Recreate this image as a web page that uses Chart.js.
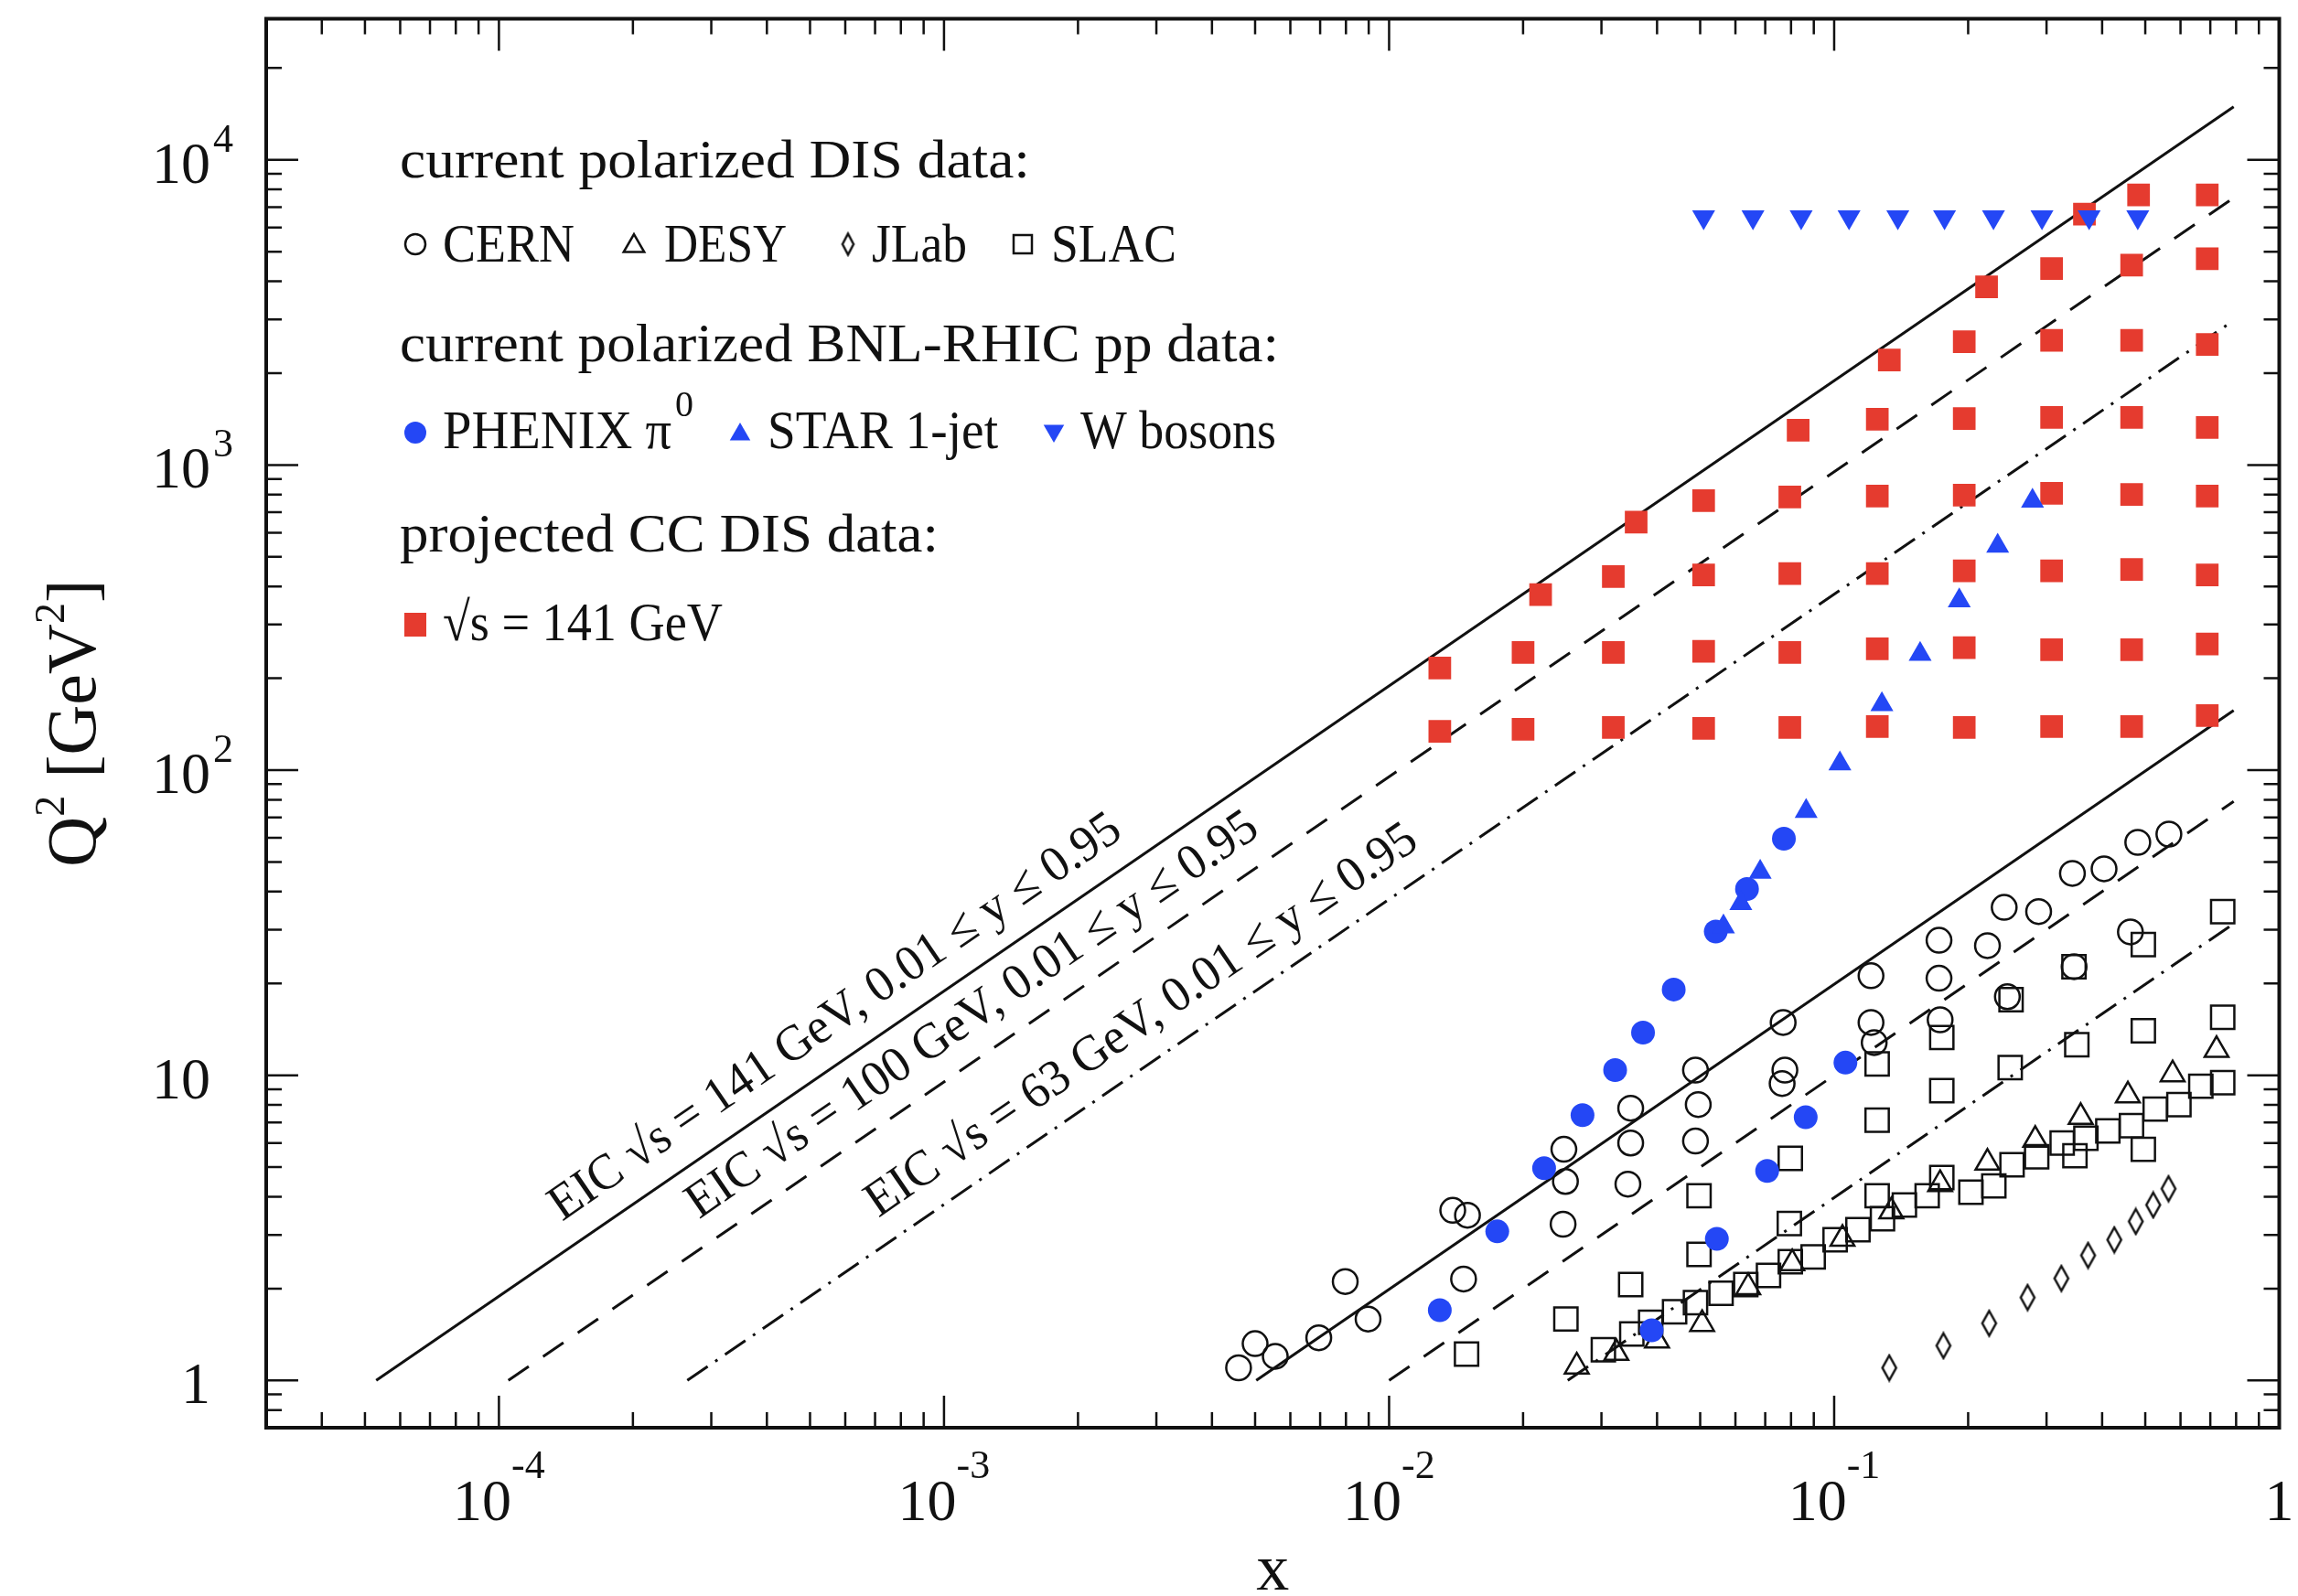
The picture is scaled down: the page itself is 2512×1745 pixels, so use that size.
<!DOCTYPE html>
<html>
<head>
<meta charset="utf-8">
<script src="https://cdn.jsdelivr.net/npm/chart.js@4.4.0/dist/chart.umd.min.js"></script>
<style>
  body { margin: 0; background: #fff; }
  #wrap { width: 2512px; height: 1745px; }
</style>
</head>
<body>
<div id="wrap"><canvas id="dis-chart" width="2512" height="1745"></canvas></div>
<script>
// ---- data (x, Q^2 in GeV^2) ----
const cernX = [0.00459, 0.00500, 0.00555, 0.00695, 0.00797, 0.00897, 0.0139, 0.0150, 0.0147,
  0.0247, 0.0249, 0.0246, 0.0349, 0.0349, 0.0344, 0.0488, 0.0495, 0.0488, 0.0768, 0.0775, 0.0764,
  0.121, 0.121, 0.123, 0.172, 0.172, 0.173, 0.221, 0.241, 0.245, 0.288, 0.346, 0.343, 0.404,
  0.463, 0.481, 0.565];
const cernQ2 = [1.10, 1.32, 1.20, 1.38, 2.11, 1.59, 3.61, 3.48, 2.15,
  5.72, 4.49, 3.25, 7.80, 6.00, 4.40, 10.4, 8.02, 6.09, 14.9, 10.4, 9.40,
  21.2, 14.9, 12.8, 27.7, 20.8, 15.2, 26.6, 35.5, 18.1, 34.4, 22.7, 45.9, 47.5,
  29.5, 58.0, 61.7];

const desyX = [0.0264, 0.0324, 0.0400, 0.0505, 0.0641, 0.0805, 0.1044, 0.1344, 0.173, 0.221,
  0.283, 0.358, 0.457, 0.576, 0.723];
const desyQ2 = [1.11, 1.23, 1.35, 1.53, 2.02, 2.42, 2.91, 3.58, 4.40, 5.17,
  6.14, 7.30, 8.58, 10.07, 12.1];

const jlabX = [0.133, 0.176, 0.223, 0.272, 0.324, 0.372, 0.426, 0.476, 0.521, 0.564];
const jlabQ2 = [1.10, 1.30, 1.54, 1.87, 2.16, 2.57, 2.89, 3.32, 3.76, 4.25];

const slacX = [0.0303, 0.0351, 0.0387, 0.0438, 0.0488, 0.0557, 0.0633, 0.0712, 0.0797, 0.0897,
  0.1005, 0.1131, 0.1284, 0.1249, 0.1438, 0.1618, 0.1745, 0.2029, 0.2284, 0.2510,
  0.2851, 0.3253, 0.3475, 0.3678, 0.4120, 0.4656, 0.4950, 0.5264, 0.5951, 0.6665, 0.7464,
  0.01493, 0.02496, 0.0349, 0.0497, 0.0497, 0.0793, 0.0797, 0.1249, 0.1249, 0.1745,
  0.1745, 0.2486, 0.2497, 0.3458, 0.4950, 0.7464, 0.3509, 0.4950, 0.7464];
const slacQ2 = [1.26, 1.42, 1.55, 1.68, 1.80, 1.93, 2.06, 2.21, 2.45, 2.54,
  2.89, 3.12, 3.39, 4.03, 3.76, 4.03, 4.62, 4.14, 4.34, 5.09,
  5.41, 6.00, 5.45, 6.22, 6.57, 6.84, 5.72, 7.75, 8.02, 9.21, 9.46,
  1.22, 1.59, 2.06, 2.59, 4.03, 3.27, 5.34, 7.13, 10.9, 8.90,
  13.3, 10.6, 17.7, 22.7, 26.8, 34.4, 12.6, 14.0, 15.5];

const phenixX = [0.0130, 0.0175, 0.0223, 0.0272, 0.0322, 0.0372, 0.0436, 0.0542, 0.0637, 0.0771,
  0.0389, 0.0545, 0.0707, 0.0863, 0.106];
const phenixQ2 = [1.70, 3.08, 4.96, 7.40, 10.4, 13.8, 19.1, 29.6, 40.8, 59.6,
  1.46, 2.91, 4.86, 7.29, 11.0];

const starX = [0.0564, 0.0617, 0.0682, 0.0865, 0.103, 0.128, 0.156, 0.191, 0.233, 0.279];
const starQ2 = [30.7, 36.6, 46.3, 73.3, 105, 164, 240, 359, 543, 762];

const wX = [0.0509, 0.0657, 0.0843, 0.108, 0.139, 0.177, 0.228, 0.293, 0.374, 0.481];
const wQ2 = [6500, 6500, 6500, 6500, 6500, 6500, 6500, 6500, 6500, 6500];

const ccX = [0.0130, 0.0130, 0.0200, 0.0200, 0.0219, 0.0319, 0.0319, 0.0319, 0.0359,
  0.0509, 0.0509, 0.0509, 0.0509, 0.0795, 0.0795, 0.0795, 0.0795, 0.0830,
  0.125, 0.125, 0.125, 0.125, 0.125, 0.133, 0.196, 0.196, 0.196, 0.196, 0.196, 0.196, 0.220,
  0.308, 0.308, 0.308, 0.308, 0.308, 0.308, 0.308,
  0.466, 0.466, 0.466, 0.466, 0.466, 0.466, 0.466, 0.483, 0.365,
  0.689, 0.689, 0.689, 0.689, 0.689, 0.689, 0.689, 0.689];
const ccQ2 = [134, 216, 136, 243, 376, 138, 243, 431, 650,
  137, 245, 436, 764, 138, 243, 441, 786, 1300,
  139, 250, 441, 791, 1413, 2208, 138, 252, 450, 796, 1419, 2535, 3838,
  139, 248, 450, 807, 1432, 2560, 4406,
  139, 248, 455, 800, 1432, 2560, 4520, 7680, 6640,
  151, 259, 436, 791, 1328, 2484, 4740, 7680];

// EIC kinematic limits, end points [x, Q^2]
const eic141Upper = [[5.3e-5, 1], [0.79, 14920]];
const eic100Upper = [[1.05e-4, 1], [0.79, 7505]];
const eic63Upper = [[2.65e-4, 1], [0.79, 2978]];
const eic141Lower = [[0.00503, 1], [0.79, 157]];
const eic100Lower = [[0.0100, 1], [0.79, 79]];
const eic63Lower = [[0.0252, 1], [0.79, 31.4]];

const lineLabels = ['EIC \u221As = 141 GeV, 0.01 \u2264 y \u2264 0.95',
  'EIC \u221As = 100 GeV, 0.01 \u2264 y \u2264 0.95',
  'EIC \u221As = 63 GeV, 0.01 \u2264 y \u2264 0.95'];
const lineLabelX = [6.4e-4, 1.30e-3, 3.12e-3];
const lineLabelQ2 = [12.1, 12.3, 11.8];

const xTickValues = [1e-4, 1e-3, 1e-2, 1e-1, 1];
const xTickLabels = [['10', '-4'], ['10', '-3'], ['10', '-2'], ['10', '-1'], ['1', '']];
const yTickValues = [1, 10, 100, 1000, 10000];
const yTickLabels = [['1', ''], ['10', ''], ['10', '2'], ['10', '3'], ['10', '4']];

const SERIF = '"Liberation Serif", "Times New Roman", serif';
const BLUE = '#2447f5';
const RED = '#e53b2f';
const INK = '#111';

function toPoints(xs, ys) {
    return xs.map((x, i) => ({ x: x, y: ys[i] }));
}

function makeDiamond(w, h, lw) {
    const c = document.createElement('canvas');
    c.width = w;
    c.height = h;
    const g = c.getContext('2d');
    g.lineWidth = lw;
    g.strokeStyle = INK;
    g.beginPath();
    g.moveTo(w / 2, lw);
    g.lineTo(w - lw, h / 2);
    g.lineTo(w / 2, h - lw);
    g.lineTo(lw, h / 2);
    g.closePath();
    g.stroke();
    return c;
}

const diamondImg = makeDiamond(20, 32, 2.5);
const diamondSmall = makeDiamond(17, 28, 2.5);

function lineSet(ends, dash) {
    return {
        data: ends.map(p => ({ x: p[0], y: p[1] })),
        showLine: true,
        borderColor: INK,
        borderWidth: 3,
        borderDash: dash,
        pointRadius: 0,
        order: 9
    };
}

function markerSet(xs, ys, style, radius, fill, stroke, extra) {
    return Object.assign({
        data: toPoints(xs, ys),
        pointStyle: style,
        pointRadius: radius,
        pointBackgroundColor: fill,
        pointBorderColor: stroke,
        pointBorderWidth: 2.5
    }, extra || {});
}

// text squeezed/stretched to the width it has in the figure
function fitText(ctx, txt, x, y, w) {
    const m = ctx.measureText(txt).width;
    ctx.save();
    ctx.translate(x, y);
    ctx.scale(w / m, 1);
    ctx.fillText(txt, 0, 0);
    ctx.restore();
}

// small symbol painter for the legend
function drawSymbol(ctx, kind, x, y) {
    ctx.save();
    ctx.lineWidth = 2.5;
    ctx.strokeStyle = INK;
    ctx.beginPath();
    if (kind === 'circle' || kind === 'dot') {
        ctx.arc(x, y, kind === 'dot' ? 12 : 11, 0, Math.PI * 2);
    } else if (kind === 'tri' || kind === 'startri') {
        const r = 13;
        ctx.moveTo(x, y - r);
        ctx.lineTo(x + r * 0.866, y + r * 0.5);
        ctx.lineTo(x - r * 0.866, y + r * 0.5);
        ctx.closePath();
    } else if (kind === 'wtri') {
        const r = 13;
        ctx.moveTo(x, y + r);
        ctx.lineTo(x + r * 0.866, y - r * 0.5);
        ctx.lineTo(x - r * 0.866, y - r * 0.5);
        ctx.closePath();
    } else if (kind === 'square') {
        ctx.rect(x - 10, y - 10, 20, 20);
    } else if (kind === 'red') {
        ctx.rect(x - 12, y - 13, 24, 26);
    } else if (kind === 'diamond') {
        ctx.drawImage(diamondSmall, x - 8.5, y - 14);
    }
    if (kind === 'dot' || kind === 'startri' || kind === 'wtri') {
        ctx.fillStyle = BLUE;
        ctx.fill();
    } else if (kind === 'red') {
        ctx.fillStyle = RED;
        ctx.fill();
    } else if (kind !== 'diamond') {
        ctx.stroke();
    }
    ctx.restore();
}

const decorPlugin = {
    id: 'decor',
    afterDatasetsDraw(chart) {
        const ctx = chart.ctx;
        const xs = chart.scales.x;
        const ys = chart.scales.y;
        const lines = [eic141Upper, eic100Upper, eic63Upper];
        ctx.save();
        ctx.fillStyle = INK;
        ctx.font = '55px ' + SERIF;
        ctx.textAlign = 'center';
        ctx.textBaseline = 'alphabetic';
        lineLabels.forEach((txt, i) => {
            const l = lines[i];
            const x0 = xs.getPixelForValue(l[0][0]), y0 = ys.getPixelForValue(l[0][1]);
            const x1 = xs.getPixelForValue(l[1][0]), y1 = ys.getPixelForValue(l[1][1]);
            const ang = Math.atan2(y1 - y0, x1 - x0);
            const px = xs.getPixelForValue(lineLabelX[i]);
            const py = ys.getPixelForValue(lineLabelQ2[i]);
            const d = 28;
            ctx.save();
            ctx.translate(px + d * Math.sin(ang), py - d * Math.cos(ang));
            ctx.rotate(ang);
            ctx.scale(0.97, 1);
            ctx.fillText(txt, 0, 0);
            ctx.restore();
        });
        ctx.restore();
    },
    afterDraw(chart) {
        const ctx = chart.ctx;
        const { left, right, top, bottom } = chart.chartArea;
        const xs = chart.scales.x;
        const ys = chart.scales.y;
        ctx.save();
        ctx.strokeStyle = INK;
        ctx.fillStyle = INK;

        // inward ticks on all four sides
        ctx.lineWidth = 2.5;
        ctx.beginPath();
        for (let e = -5; e <= 0; e++) {
            for (let k = 1; k <= 9; k++) {
                const v = k * Math.pow(10, e);
                if (v < xs.min * 0.999 || v > xs.max * 1.001) continue;
                const len = k === 1 ? 35 : 17;
                const px = xs.getPixelForValue(v);
                ctx.moveTo(px, bottom); ctx.lineTo(px, bottom - len);
                ctx.moveTo(px, top); ctx.lineTo(px, top + len);
            }
        }
        for (let e = -1; e <= 4; e++) {
            for (let k = 1; k <= 9; k++) {
                const v = k * Math.pow(10, e);
                if (v < ys.min * 0.999 || v > ys.max * 1.001) continue;
                const len = k === 1 ? 35 : 17;
                const py = ys.getPixelForValue(v);
                ctx.moveTo(left, py); ctx.lineTo(left + len, py);
                ctx.moveTo(right, py); ctx.lineTo(right - len, py);
            }
        }
        ctx.stroke();

        // frame
        ctx.lineWidth = 4;
        ctx.strokeRect(left, top, right - left, bottom - top);

        // x tick labels
        ctx.textBaseline = 'alphabetic';
        ctx.textAlign = 'left';
        xTickValues.forEach((v, i) => {
            const [base, ex] = xTickLabels[i];
            ctx.font = '64px ' + SERIF;
            const wb = ctx.measureText(base).width;
            ctx.font = '44px ' + SERIF;
            const we = ex ? ctx.measureText(ex).width : 0;
            const px = xs.getPixelForValue(v);
            const start = px - (wb + we) / 2;
            ctx.font = '64px ' + SERIF;
            ctx.fillText(base, start, bottom + 101);
            if (ex) {
                ctx.font = '44px ' + SERIF;
                ctx.fillText(ex, start + wb, bottom + 55);
            }
        });

        // y tick labels
        yTickValues.forEach((v, i) => {
            const [base, ex] = yTickLabels[i];
            const py = ys.getPixelForValue(v);
            ctx.font = '64px ' + SERIF;
            ctx.textAlign = 'right';
            ctx.fillText(base, 230, py + 25);
            if (ex) {
                ctx.font = '44px ' + SERIF;
                ctx.textAlign = 'left';
                ctx.fillText(ex, 233, py - 9);
            }
        });

        // axis titles
        ctx.textAlign = 'center';
        ctx.font = '72px ' + SERIF;
        ctx.fillText('x', (left + right) / 2, 1738);

        ctx.save();
        ctx.translate(104, (top + bottom) / 2);
        ctx.rotate(-Math.PI / 2);
        const parts = [['Q', 76, 0], ['2', 46, -34], [' [GeV', 76, 0], ['2', 46, -34], [']', 76, 0]];
        let total = 0;
        parts.forEach(p => { ctx.font = p[1] + 'px ' + SERIF; total += ctx.measureText(p[0]).width; });
        let cx = -total / 2;
        ctx.textAlign = 'left';
        parts.forEach(p => {
            ctx.font = p[1] + 'px ' + SERIF;
            ctx.fillText(p[0], cx, p[2]);
            cx += ctx.measureText(p[0]).width;
        });
        ctx.restore();

        // legend block
        ctx.textAlign = 'left';
        ctx.font = '60px ' + SERIF;
        fitText(ctx, 'current polarized DIS data:', 437, 194, 689);
        fitText(ctx, 'current polarized BNL-RHIC pp data:', 437, 395, 961);
        fitText(ctx, 'projected CC DIS data:', 437, 603, 589);

        drawSymbol(ctx, 'circle', 454, 267);
        fitText(ctx, 'CERN', 484, 286, 144);
        drawSymbol(ctx, 'tri', 693, 269);
        fitText(ctx, 'DESY', 726, 286, 134);
        drawSymbol(ctx, 'diamond', 927, 267);
        fitText(ctx, 'JLab', 953, 286, 104);
        drawSymbol(ctx, 'square', 1118, 267);
        fitText(ctx, 'SLAC', 1149, 286, 137);

        drawSymbol(ctx, 'dot', 454, 473);
        fitText(ctx, 'PHENIX \u03C0', 484, 490, 250);
        ctx.font = '40px ' + SERIF;
        ctx.fillText('0', 738, 455);
        ctx.font = '60px ' + SERIF;
        drawSymbol(ctx, 'startri', 809, 475);
        fitText(ctx, 'STAR 1-jet', 839, 490, 252);
        drawSymbol(ctx, 'wtri', 1152, 471);
        fitText(ctx, 'W bosons', 1181, 490, 214);

        drawSymbol(ctx, 'red', 454, 683);
        fitText(ctx, '\u221As = 141 GeV', 484, 700, 306);

        ctx.restore();
    }
};

async function main() {
    const canvas = document.querySelector('#dis-chart');

    new Chart(canvas.getContext('2d'), {
        type: 'scatter',
        data: {
            datasets: [
                markerSet(wX, wQ2, 'triangle', 14.5, BLUE, BLUE, { pointRotation: 180, pointBorderWidth: 0, order: 1 }),
                markerSet(starX, starQ2, 'triangle', 14.5, BLUE, BLUE, { pointBorderWidth: 0, order: 1 }),
                markerSet(phenixX, phenixQ2, 'circle', 13, BLUE, BLUE, { pointBorderWidth: 0, order: 1 }),
                markerSet(ccX, ccQ2, 'rect', 17.5, RED, RED, { pointBorderWidth: 0, order: 2 }),
                markerSet(cernX, cernQ2, 'circle', 13.5, 'rgba(0,0,0,0)', INK, { order: 3 }),
                markerSet(desyX, desyQ2, 'triangle', 15, 'rgba(0,0,0,0)', INK, { order: 3 }),
                markerSet(jlabX, jlabQ2, diamondImg, 10, 'rgba(0,0,0,0)', INK, { order: 3 }),
                markerSet(slacX, slacQ2, 'rect', 18, 'rgba(0,0,0,0)', INK, { order: 3 }),
                lineSet(eic141Upper, []),
                lineSet(eic100Upper, [27, 19]),
                lineSet(eic63Upper, [27, 10, 3, 10]),
                lineSet(eic141Lower, []),
                lineSet(eic100Lower, [27, 19]),
                lineSet(eic63Lower, [27, 10, 3, 10])
            ]
        },
        options: {
            responsive: false,
            devicePixelRatio: 1,
            animation: false,
            events: [],
            layout: { padding: { left: 291, right: 19, top: 19, bottom: 184 } },
            plugins: { legend: { display: false }, tooltip: { enabled: false } },
            scales: {
                x: { type: 'logarithmic', min: 3.0e-5, max: 1, display: false },
                y: { type: 'logarithmic', min: 0.70, max: 29000, display: false }
            }
        },
        plugins: [decorPlugin]
    });
}

main();
</script>
</body>
</html>
